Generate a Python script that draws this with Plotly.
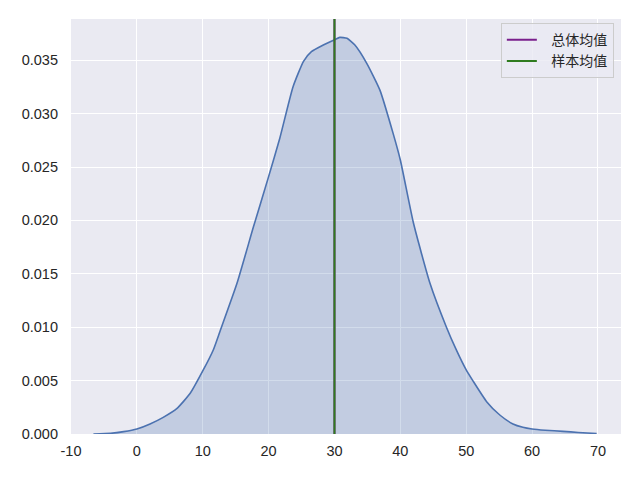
import plotly.graph_objects as go

# KDE curve (value -> density)
kde_x = [-6.6, -4.0, -2.0, 0.0, 2.0, 4.0, 6.1, 8.1, 10.0, 11.6, 12.6, 15.2,
         17.7, 20.0, 21.7, 23.7, 25.3, 26.5, 28.3, 30.1, 30.8, 31.9, 33.1,
         34.9, 36.9, 38.9, 40.0, 42.0, 44.5, 47.0, 48.5, 50.0, 51.0, 53.1,
         55.1, 57.1, 58.6, 60.0, 62.0, 64.7, 67.0, 69.8]
kde_y = [0.0, 0.00006, 0.00022, 0.00047, 0.00094, 0.00156, 0.0024, 0.00381,
         0.0059, 0.00787, 0.00958, 0.01411, 0.0194, 0.0241, 0.0277, 0.0325,
         0.0349, 0.0358, 0.03642, 0.03695, 0.03714, 0.03705, 0.03642, 0.03471,
         0.0322, 0.02815, 0.02566, 0.01973, 0.01411, 0.0100, 0.00787, 0.006,
         0.005, 0.00303, 0.00178, 0.00094, 0.00063, 0.00047, 0.00035, 0.00025,
         0.00014, 0.00004]

pop_mean = 30.0
sample_mean = 30.0
mean_names = ["总体均值", "样本均值"]

x_ticks = [-10, 0, 10, 20, 30, 40, 50, 60, 70]
x_ticktext = [str(v) for v in x_ticks]
y_ticks = [0.0, 0.005, 0.010, 0.015, 0.020, 0.025, 0.030, 0.035]

fig = go.Figure()

# density curve with fill
fig.add_trace(go.Scatter(x=kde_x, y=kde_y, mode="lines",
                         line=dict(color="#4C72B0", width=1.6, shape="spline", smoothing=0.5),
                         fill="tozeroy", fillcolor="rgba(76,114,176,0.25)",
                         showlegend=False, hoverinfo="skip"))

# mean lines (purple drawn first, green on top); nbsp pad = gap after legend line
pad = "\u00a0\u00a0\u00a0"
fig.add_vline(x=pop_mean, line_color="#7a1f8c", line_width=2,
              name=pad + mean_names[0], showlegend=True)
fig.add_vline(x=sample_mean, line_color="#2f7b1f", line_width=2,
              name=pad + mean_names[1], showlegend=True)

fig.update_layout(
    width=640, height=480,
    margin=dict(l=71, r=19, t=19, b=46),
    paper_bgcolor="white",
    plot_bgcolor="#EAEAF2",
    font=dict(family="Liberation Sans, Arial, sans-serif", size=14.5, color="#262626"),
    legend=dict(x=0.987, y=0.99, xanchor="right", yanchor="top",
                bgcolor="rgba(234,234,242,0.8)", bordercolor="#cccccc", borderwidth=1,
                font=dict(family="Noto Sans CJK SC", size=14, color="#262626"),
                tracegroupgap=0, itemwidth=30),
)

fig.update_xaxes(range=[-10.0, 73.5], tickvals=x_ticks, ticktext=x_ticktext,
                 showgrid=True, gridcolor="white", gridwidth=1.3,
                 zeroline=False, showline=False, ticks="", ticklabelstandoff=6)
fig.update_yaxes(range=[0, 0.03886], tickvals=y_ticks, tickformat=".3f",
                 showgrid=True, gridcolor="white", gridwidth=1.3,
                 zeroline=False, showline=False, ticks="", ticklabelstandoff=12)

fig.write_html("out.html", config={"displayModeBar": False},
               post_script="document.body.style.margin='0';")
